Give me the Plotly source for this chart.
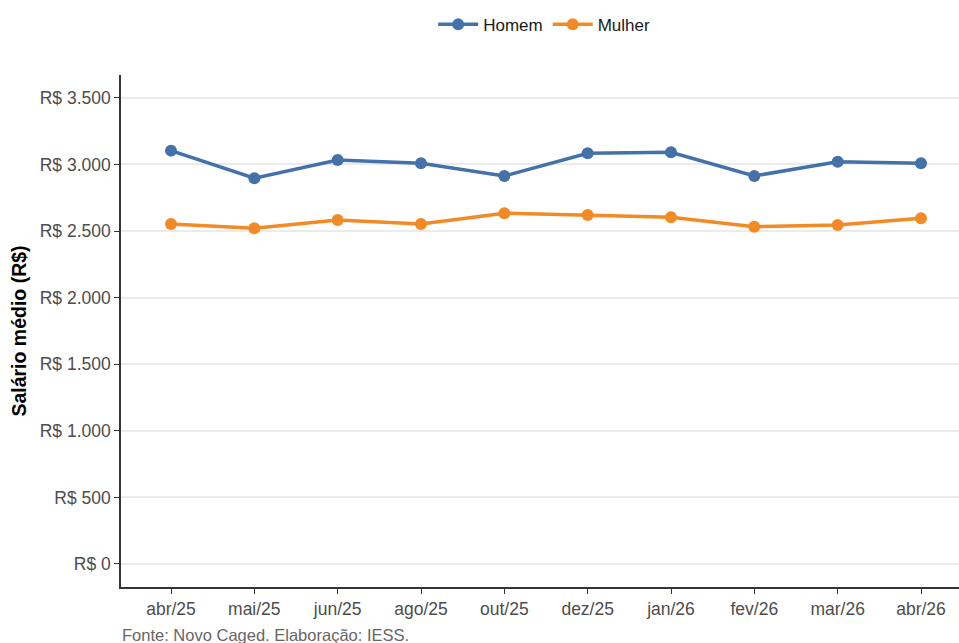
import plotly.graph_objects as go

meses = ["abr/25", "mai/25", "jun/25", "ago/25", "out/25", "dez/25", "jan/26", "fev/26", "mar/26", "abr/26"]
homem = [3104, 2897, 3034, 3009, 2914, 3084, 3092, 2914, 3021, 3009]
mulher = [2553, 2521, 2583, 2553, 2634, 2621, 2604, 2533, 2546, 2596]
y_ticks = [0, 500, 1000, 1500, 2000, 2500, 3000, 3500]
y_labels = ["R$ 0", "R$ 500", "R$ 1.000", "R$ 1.500", "R$ 2.000", "R$ 2.500", "R$ 3.000", "R$ 3.500"]

FONT = "Liberation Sans, Arial, sans-serif"

fig = go.Figure()
fig.add_trace(go.Scatter(x=list(range(len(meses))), y=homem, name="Homem", mode="lines+markers",
                         line=dict(color="#4472A8", width=3.5), marker=dict(size=12, color="#4472A8")))
fig.add_trace(go.Scatter(x=list(range(len(meses))), y=mulher, name="Mulher", mode="lines+markers",
                         line=dict(color="#F28A25", width=3.5), marker=dict(size=12, color="#F28A25")))

fig.update_layout(
    width=959, height=643,
    margin=dict(l=121, r=0, t=75, b=56, autoexpand=False),
    plot_bgcolor="white", paper_bgcolor="white",
    font=dict(family=FONT, size=17, color="#4D4D4D"),
    showlegend=True,
    legend=dict(orientation="h", x=0.505, xanchor="center", y=1.098, yanchor="middle",
                font=dict(size=17, color="#1A1A1A"), itemwidth=40),
    xaxis=dict(tickmode="array", tickvals=list(range(len(meses))), ticktext=meses,
               range=[-0.6, 9.456], showgrid=False, zeroline=False,
               showline=True, linecolor="#333333", linewidth=1.5,
               ticks="outside", ticklen=5, tickcolor="#333333",
               tickfont=dict(size=17.5, color="#4D4D4D")),
    yaxis=dict(tickmode="array", tickvals=y_ticks, ticktext=y_labels,
               range=[-173, 3672], showgrid=True, gridcolor="#EBEBEB", gridwidth=1.5,
               zeroline=False, showline=True, linecolor="#333333", linewidth=1.5,
               ticks="outside", ticklen=5, tickcolor="#333333",
               tickfont=dict(size=17.5, color="#4D4D4D"),
               title=dict(text="<b>Salário médio (R$)</b>", font=dict(size=19.5, color="#000000"), standoff=8)),
    annotations=[dict(text="Fonte: Novo Caged. Elaboração: IESS.", xref="paper", yref="paper",
                      x=-0.001, y=-0.094, xanchor="left", yanchor="middle", showarrow=False,
                      font=dict(size=16.5, color="#666666"))],
)

fig.write_html("out.html", post_script="document.body.style.margin='0px';",
               config={"displayModeBar": False})
